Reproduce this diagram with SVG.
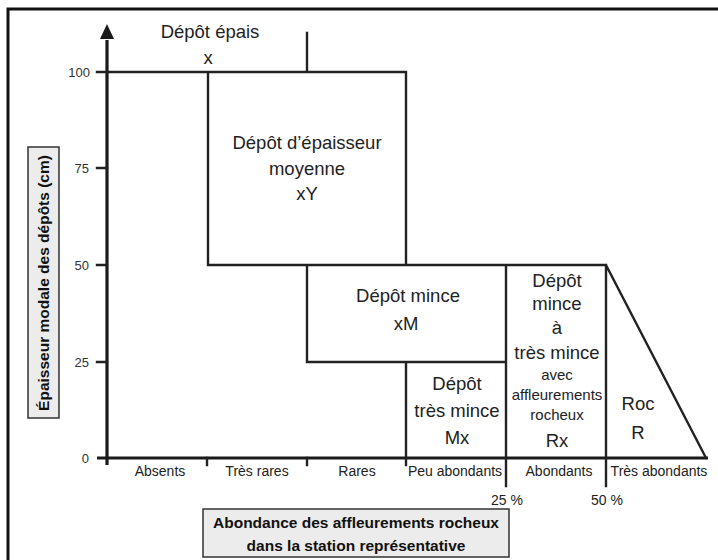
<svg xmlns="http://www.w3.org/2000/svg" width="718" height="560" viewBox="0 0 718 560">
<style>
.ln{stroke:#222;stroke-width:2.4;fill:none;stroke-linecap:square}
.ax{stroke:#1a1a1a;stroke-width:3.2;fill:none}
.t{font-family:"Liberation Sans",Arial,sans-serif;fill:#222;text-anchor:middle}
.big{font-size:18.5px}
.sm{font-size:14px}
.xs{font-size:15px}
.tk{font-size:13px;fill:#333;text-anchor:end}
.ttl{font-family:"Liberation Sans",Arial,sans-serif;font-weight:bold;font-size:15.5px;fill:#111;text-anchor:middle}
.lbox{fill:#ececec;stroke:#333;stroke-width:1.5}
</style>
<rect x="0" y="0" width="718" height="560" fill="#fff"/>
<path d="M8,560 V9 H718" fill="none" stroke="#111" stroke-width="3"/>

<g id="axes">
<path class="ax" d="M107,465 V40"/>
<path d="M100,39 L107,24 L114,39 Z" fill="#1a1a1a"/>
<path class="ax" d="M97,458 H708" stroke-width="2.6"/>
<path class="ln" d="M97,72 H107 M97,168 H107 M97,265 H107 M97,362 H107 M207,458 V465 M307,458 V465"/>
<text class="t tk" x="90" y="77">100</text>
<text class="t tk" x="89" y="173">75</text>
<text class="t tk" x="89" y="270">50</text>
<text class="t tk" x="89" y="367">25</text>
<text class="t tk" x="89" y="463">0</text>
</g>

<g id="connectors">
<path class="ln" d="M107,72 H406 V265 M307,33 V72 M208,72 V265 H605 M307,265 V362 H506 M406,362 V465 M506,265 V486 M606,265 V486 M606,265 L706,458"/>
</g>

<g id="x">
<text class="t big" x="210" y="38">Dépôt épais</text>
<text class="t big" x="208" y="64">x</text>
</g>
<g id="xY">
<text class="t big" x="307" y="149" font-size="19.5">Dépôt d’épaisseur</text>
<text class="t big" x="307" y="175">moyenne</text>
<text class="t big" x="307" y="200">xY</text>
</g>
<g id="xM">
<text class="t big" x="408" y="302">Dépôt mince</text>
<text class="t big" x="406" y="330">xM</text>
</g>
<g id="Mx">
<text class="t big" x="457" y="390">Dépôt</text>
<text class="t big" x="457" y="417">très mince</text>
<text class="t big" x="457" y="444">Mx</text>
</g>
<g id="Rx">
<text class="t big" x="557" y="287">Dépôt</text>
<text class="t big" x="557" y="310">mince</text>
<text class="t big" x="557" y="334">à</text>
<text class="t big" x="557" y="359">très mince</text>
<text class="t xs" x="557" y="380">avec</text>
<text class="t xs" x="557" y="400">affleurements</text>
<text class="t xs" x="557" y="420">rocheux</text>
<text class="t big" x="557" y="447">Rx</text>
</g>
<g id="R">
<text class="t big" x="638" y="410">Roc</text>
<text class="t big" x="638" y="439">R</text>
</g>

<g id="xlabels">
<text class="t sm" x="160" y="476">Absents</text>
<text class="t sm" x="257" y="476">Très rares</text>
<text class="t sm" x="357" y="476">Rares</text>
<text class="t sm" x="455" y="476">Peu abondants</text>
<text class="t sm" x="559" y="476">Abondants</text>
<text class="t sm" x="659" y="476">Très abondants</text>
<text class="t sm" x="507" y="505" font-size="13">25 %</text>
<text class="t sm" x="607" y="505" font-size="13">50 %</text>
</g>

<g id="ytitle">
<rect class="lbox" x="28" y="147" width="31" height="271"/>
<text class="ttl" font-size="15" transform="translate(49,283) rotate(-90)">Épaisseur modale des dépôts (cm)</text>
</g>
<g id="xtitle">
<rect class="lbox" x="203" y="509" width="306" height="48"/>
<text class="ttl" x="356" y="528">Abondance des affleurements rocheux</text>
<text class="ttl" x="356" y="551">dans la station représentative</text>
</g>
</svg>
